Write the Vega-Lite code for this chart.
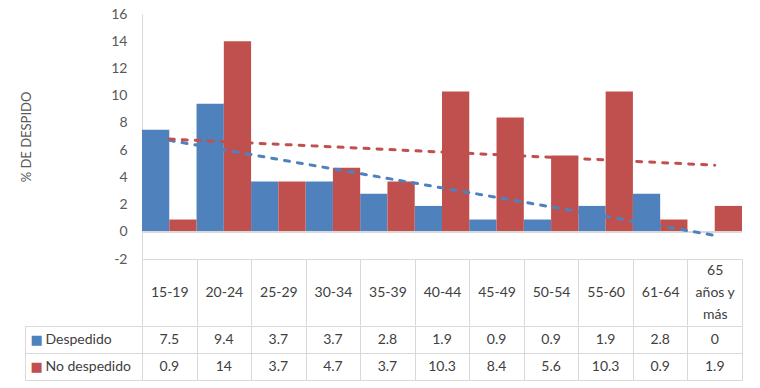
{
  "$schema": "https://vega.github.io/schema/vega-lite/v6.json",
  "padding": {"left": 20, "top": 7, "right": 15, "bottom": 8},
  "background": "white",
  "config": {
    "view": {"stroke": null},
    "font": "Lato",
    "axis": {"labelFont": "Lato", "titleFont": "Lato", "labelColor": "#595959", "domainColor": "#d9d9d9", "tickColor": "#d9d9d9", "gridColor": "#d9d9d9", "labelFontSize": 14}
  },
  "data": {
    "values": [
      {"cat": "15-19", "i": 1, "series": "Despedido", "value": 7.5},
      {"cat": "20-24", "i": 2, "series": "Despedido", "value": 9.4},
      {"cat": "25-29", "i": 3, "series": "Despedido", "value": 3.7},
      {"cat": "30-34", "i": 4, "series": "Despedido", "value": 3.7},
      {"cat": "35-39", "i": 5, "series": "Despedido", "value": 2.8},
      {"cat": "40-44", "i": 6, "series": "Despedido", "value": 1.9},
      {"cat": "45-49", "i": 7, "series": "Despedido", "value": 0.9},
      {"cat": "50-54", "i": 8, "series": "Despedido", "value": 0.9},
      {"cat": "55-60", "i": 9, "series": "Despedido", "value": 1.9},
      {"cat": "61-64", "i": 10, "series": "Despedido", "value": 2.8},
      {"cat": "65 años y más", "i": 11, "series": "Despedido", "value": 0},
      {"cat": "15-19", "i": 1, "series": "No despedido", "value": 0.9},
      {"cat": "20-24", "i": 2, "series": "No despedido", "value": 14},
      {"cat": "25-29", "i": 3, "series": "No despedido", "value": 3.7},
      {"cat": "30-34", "i": 4, "series": "No despedido", "value": 4.7},
      {"cat": "35-39", "i": 5, "series": "No despedido", "value": 3.7},
      {"cat": "40-44", "i": 6, "series": "No despedido", "value": 10.3},
      {"cat": "45-49", "i": 7, "series": "No despedido", "value": 8.4},
      {"cat": "50-54", "i": 8, "series": "No despedido", "value": 5.6},
      {"cat": "55-60", "i": 9, "series": "No despedido", "value": 10.3},
      {"cat": "61-64", "i": 10, "series": "No despedido", "value": 0.9},
      {"cat": "65 años y más", "i": 11, "series": "No despedido", "value": 1.9}
    ]
  },
  "spacing": -7,
  "vconcat": [
    {
      "width": 600,
      "height": 245,
      "encoding": {
        "y": {
          "field": "value", "type": "quantitative",
          "scale": {"domain": [-2, 16], "nice": false},
          "axis": {"title": "% DE DESPIDO", "titleFontSize": 13, "titleFontWeight": "normal", "titleColor": "#595959", "titlePadding": 77, "values": [-2,0,2,4,6,8,10,12,14,16], "labelExpr": "datum.value + ''", "labelOverlap": false, "labelSeparation": -20, "labelFontSize": 14, "ticks": false, "grid": false, "labelPadding": 15, "domain": true}
        }
      },
      "layer": [
        {
          "mark": {"type": "bar"},
          "encoding": {
            "x": {
              "field": "cat", "type": "nominal",
              "scale": {"domain": ["15-19","20-24","25-29","30-34","35-39","40-44","45-49","50-54","55-60","61-64","65 años y más"], "paddingInner": 0, "paddingOuter": 0},
              "axis": {"title": null, "labelAngle": 0, "domain": true, "ticks": true, "tickBand": "extent", "tickSize": 66, "labelPadding": -55, "labelBaseline": "middle", "labelLineHeight": 22, "labelColor": "#404040", "labelOverlap": false, "labelExpr": "datum.label == '65 años y más' ? ['65', 'años y', 'más'] : ['', datum.label]"}
            },
            "xOffset": {"field": "series", "type": "nominal", "scale": {"domain": ["Despedido", "No despedido"], "paddingInner": 0, "paddingOuter": 0}},
            "color": {"field": "series", "type": "nominal", "scale": {"domain": ["Despedido", "No despedido"], "range": ["#4f81bd", "#c0504d"]}, "legend": null}
          }
        },
        {
          "mark": {"type": "rule", "color": "#d9d9d9", "strokeWidth": 1},
          "encoding": {"y": {"datum": 0, "type": "quantitative"}}
        },
        {
          "transform": [{"regression": "value", "on": "i", "groupby": ["series"], "extent": [1, 11]}],
          "mark": {"type": "line", "strokeDash": [5, 8], "strokeWidth": 3, "strokeCap": "round"},
          "encoding": {
            "x": {"field": "i", "type": "quantitative", "scale": {"domain": [0.5, 11.5], "nice": false, "zero": false}, "axis": null},
            "color": {"field": "series", "type": "nominal", "legend": null}
          }
        }
      ],
      "resolve": {"scale": {"x": "independent"}}
    },
    {
      "width": 600,
      "height": 54,
      "layer": [
        {
          "mark": {"type": "text", "fontSize": 14, "color": "#404040", "font": "Lato"},
          "encoding": {
            "x": {
              "field": "cat", "type": "nominal",
              "scale": {"domain": ["15-19","20-24","25-29","30-34","35-39","40-44","45-49","50-54","55-60","61-64","65 años y más"], "paddingInner": 0, "paddingOuter": 0},
              "axis": {"title": null, "grid": true, "tickBand": "extent", "domain": false, "ticks": false, "labels": false}
            },
            "y": {
              "field": "series", "type": "nominal",
              "scale": {"domain": ["Despedido", "No despedido"], "paddingInner": 0, "paddingOuter": 0},
              "axis": {"title": null, "orient": "left", "grid": true, "tickBand": "extent", "domain": false, "ticks": true, "tickSize": 117, "labelAlign": "left", "labelPadding": -20, "labelColor": "#404040", "labelFontSize": 14}
            },
            "text": {"field": "value", "type": "nominal"}
          }
        },
        {
          "mark": {"type": "text", "opacity": 0},
          "encoding": {
            "y": {
              "field": "series", "type": "nominal",
              "scale": {"domain": ["Despedido", "No despedido"], "paddingInner": 0, "paddingOuter": 0},
              "axis": {"title": null, "orient": "left", "offset": 117, "grid": false, "domain": true, "ticks": false, "labelAlign": "left", "labelPadding": -5, "labelFont": "DejaVu Sans", "labelFontSize": 13, "labelExpr": "'■'", "labelColor": {"condition": {"test": "datum.value == 'Despedido'", "value": "#4f81bd"}, "value": "#c0504d"}}
            },
            "text": {"value": ""}
          }
        }
      ],
      "resolve": {"scale": {"y": "independent"}}
    }
  ]
}
